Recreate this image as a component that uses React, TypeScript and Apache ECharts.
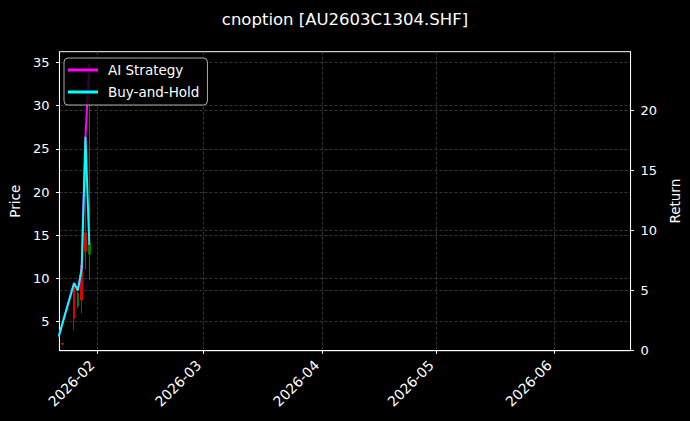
import React, { useEffect, useRef } from 'react';
import * as echarts from 'echarts';

// ---- data ----
const lineDates = ['2026-01-22', '2026-01-23', '2026-01-26', '2026-01-27', '2026-01-28', '2026-01-29', '2026-01-30'];
const aiStrategy = [1.15, 2.3, 5.6, 5.0, 6.8, 17.8, 23.9];
const buyAndHold = [1.15, 2.3, 5.6, 5.0, 6.8, 17.8, 8.8];

const candleDates = ['2026-01-23', '2026-01-26', '2026-01-27', '2026-01-28', '2026-01-29', '2026-01-30'];
const opens = [2.5, 9.5, 6.8, 11.5, 15.3, 12.8];
const closes = [2.4, 5.4, 8.3, 7.5, 13.1, 14.0];
const lows = [2.3, 4.0, 6.6, 6.0, 11.0, 9.8];
const highs = [2.5, 9.6, 8.5, 12.0, 25.0, 34.9];

const priceTicks = [5, 10, 15, 20, 25, 30, 35];
const returnTicks = [0, 5, 10, 15, 20];

const titleText = 'cnoption [AU2603C1304.SHF]';
const FONT = 'DejaVu Sans';
const DAY = 86400000;

function ts(s: string): number {
  const [y, m, d] = s.split('-').map(Number);
  return new Date(y, m - 1, d).getTime();
}

export default function App() {
  const ref = useRef<HTMLDivElement>(null);

  useEffect(() => {
    document.body.style.margin = '0';
    document.body.style.background = '#000';
    const chart = echarts.init(ref.current!, null, { renderer: 'svg' });

    const grid = { color: '#444', type: [3, 2] as any, width: 0.8 };

    const option: any = {
      animation: false,
      backgroundColor: '#000',
      title: {
        text: titleText,
        left: 'center',
        top: 6,
        textStyle: { color: '#fff', fontSize: 16.5, fontWeight: 'normal', fontFamily: FONT },
      },
      legend: {
        data: ['AI Strategy', 'Buy-and-Hold'],
        orient: 'vertical',
        left: 64,
        top: 58,
        padding: [5, 8, 6, 4],
        itemWidth: 30,
        itemHeight: 3,
        itemGap: 8,
        icon: 'rect',
        backgroundColor: 'rgba(0,0,0,0.8)',
        borderColor: '#aaa',
        borderWidth: 1,
        borderRadius: 4,
        textStyle: { color: '#fff', fontSize: 13.5, fontFamily: FONT, padding: [0, 0, 0, 5] },
      },
      grid: {
        left: 57.3,
        right: 56.7,
        top: 51.7,
        bottom: 70.3,
        show: true,
        borderColor: '#fff',
        borderWidth: 1,
        backgroundColor: '#000',
      },
      xAxis: {
        type: 'time',
        min: new Date(2026, 0, 22, 4).getTime(),
        max: new Date(2026, 5, 21, 0).getTime(),
        splitNumber: 5,
        minInterval: 28 * DAY,
        maxInterval: 31 * DAY,
        axisLine: { show: true, lineStyle: { color: '#fff' } },
        axisTick: { show: true, length: 3.5, lineStyle: { color: '#fff' } },
        axisLabel: {
          color: '#fff',
          fontSize: 14,
          fontFamily: FONT,
          rotate: 45,
          align: 'right',
          verticalAlign: 'bottom',
          margin: 17,
          hideOverlap: false,
          formatter: (v: number) => {
            const d = new Date(v);
            return d.getFullYear() + '-' + String(d.getMonth() + 1).padStart(2, '0');
          },
        },
        splitLine: { show: true, lineStyle: grid },
      },
      yAxis: [
        {
          type: 'value',
          position: 'left',
          min: 1.64,
          max: 36.25,
          name: 'Price',
          nameLocation: 'middle',
          nameGap: 33,
          nameRotate: 90,
          nameTextStyle: { color: '#fff', fontSize: 13.5, fontFamily: FONT },
          axisLine: { show: true, lineStyle: { color: '#fff' } },
          axisTick: { show: true, length: 3.5, lineStyle: { color: '#fff' }, customValues: priceTicks },
          axisLabel: { color: '#fff', fontSize: 13, fontFamily: FONT, margin: 10, customValues: priceTicks },
          splitLine: { show: true, lineStyle: grid },
        },
        {
          type: 'value',
          position: 'right',
          min: -0.03,
          max: 24.9,
          name: 'Return',
          nameLocation: 'middle',
          nameGap: 30,
          nameRotate: 90,
          nameTextStyle: { color: '#fff', fontSize: 13.5, fontFamily: FONT },
          axisLine: { show: true, lineStyle: { color: '#fff' } },
          axisTick: { show: true, length: 3.5, lineStyle: { color: '#fff' }, customValues: returnTicks },
          axisLabel: { color: '#fff', fontSize: 13, fontFamily: FONT, margin: 10, customValues: returnTicks },
          splitLine: { show: true, lineStyle: grid },
        },
      ],
      series: [
        {
          type: 'candlestick',
          yAxisIndex: 0,
          barWidth: 2,
          itemStyle: {
            color: '#008000',
            color0: '#e00000',
            borderColor: '#008000',
            borderColor0: '#e00000',
            borderWidth: 1,
          },
          data: candleDates.map((d, i) => [ts(d), opens[i], closes[i], lows[i], highs[i]]),
        },
        {
          name: 'AI Strategy',
          type: 'line',
          yAxisIndex: 1,
          symbol: 'none',
          showSymbol: false,
          itemStyle: { color: '#ff00ff' },
          lineStyle: { color: '#ff00ff', width: 2 },
          data: lineDates.map((d, i) => [ts(d), aiStrategy[i]]),
        },
        {
          name: 'Buy-and-Hold',
          type: 'line',
          yAxisIndex: 1,
          symbol: 'none',
          showSymbol: false,
          itemStyle: { color: '#00ffff' },
          lineStyle: { color: '#00ffff', width: 2 },
          data: lineDates.map((d, i) => [ts(d), buyAndHold[i]]),
        },
      ],
    };

    chart.setOption(option);
    return () => chart.dispose();
  }, []);

  return (
    <div
      ref={ref}
      style={{ position: 'fixed', left: 0, top: 0, width: 690, height: 421, background: '#000' }}
    />
  );
}
